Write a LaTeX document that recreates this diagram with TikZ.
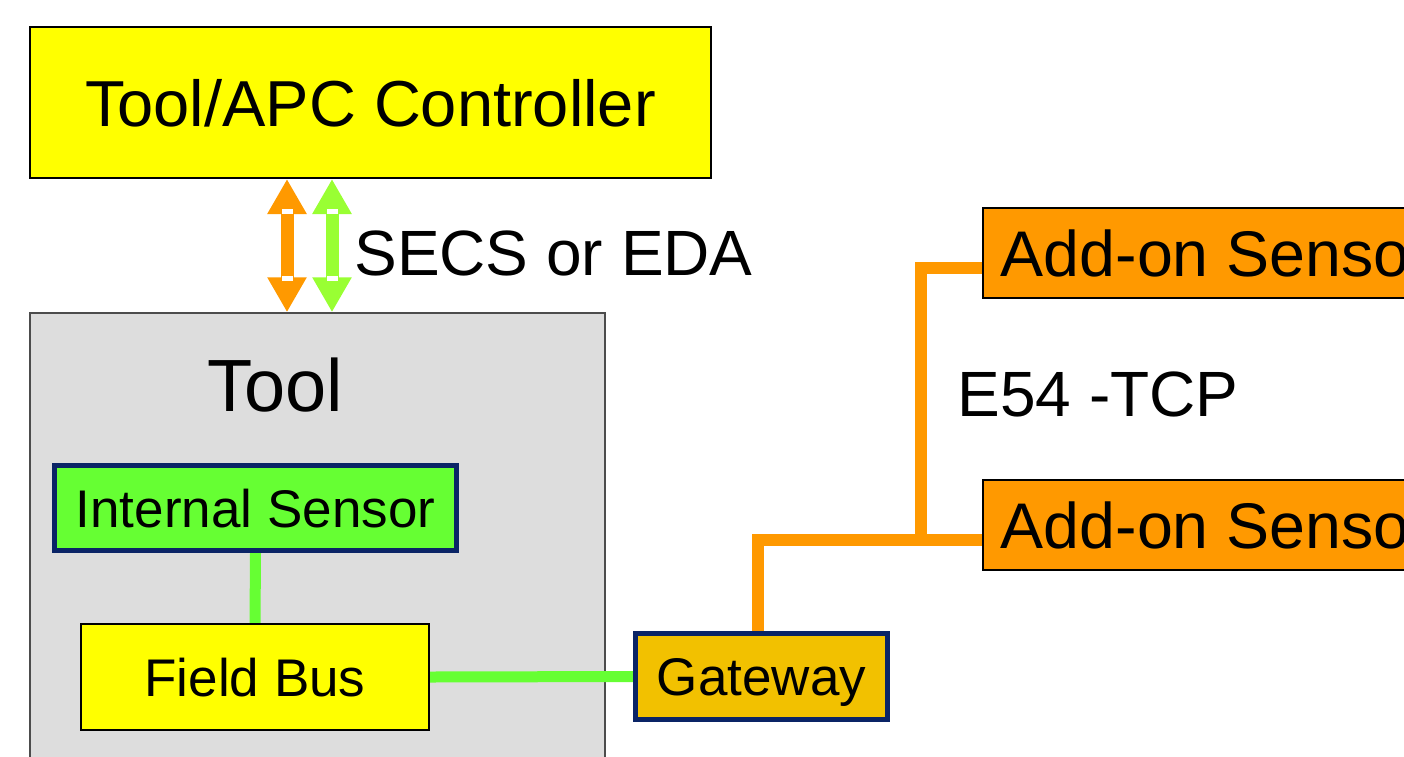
\documentclass[tikz,border=0pt]{standalone}
\usepackage{fontspec}
\setmainfont{Liberation Sans}
\usetikzlibrary{arrows.meta,calc}

\definecolor{cyellow}{HTML}{FFFF00}
\definecolor{cgray}{HTML}{DDDDDD}
\definecolor{cgreen}{HTML}{66FF33}
\definecolor{carrowgreen}{HTML}{99FF33}
\definecolor{corange}{HTML}{FF9900}
\definecolor{camber}{HTML}{F2C100}
\definecolor{cnavy}{HTML}{0A2466}

\pgfdeclarelayer{bg}
\pgfdeclarelayer{wires}
\pgfsetlayers{bg,wires,main}

\begin{document}
\begin{tikzpicture}[x=1pt,y=-1pt,
  box/.style={draw=black,line width=2pt,inner sep=0pt,text depth=0pt},
  navybox/.style={box,draw=cnavy,line width=5pt},
  bigfont/.style={font=\fontsize{64.5}{70}\selectfont},
  midfont/.style={font=\fontsize{53}{60}\selectfont},
  label/.style={inner sep=0pt,text depth=0pt,font=\fontsize{64}{70}\selectfont},
  gline/.style={draw=cgreen,line width=11pt},
  oline/.style={draw=corange,line width=12pt},
  dblarrow/.style={line width=13pt,
    {Triangle[width=37pt,length=35pt]}-{Triangle[width=37pt,length=35pt]}},
  gapmark/.style={fill=white}]

\useasboundingbox (0,0) rectangle (1404,756);
\clip (0,0) rectangle (1404,756);

% the tool enclosure sits underneath everything
\begin{pgfonlayer}{bg}
  \node[box,draw=gray!60!black,line width=1.5pt,fill=cgray,
        minimum width=575,minimum height=487] (tool) at (317.5,556.5) {};
\end{pgfonlayer}

% boxes
\node[box,fill=cyellow,minimum width=681,minimum height=151,
      font=\fontsize{65}{70}\selectfont]
  (ctrl) at (370.5,102.5) {Tool/APC Controller};
\node[label,font=\fontsize{74}{80}\selectfont] (tooltitle) at (275,385) {Tool};
\node[navybox,fill=cgreen,minimum width=402,minimum height=85,midfont]
  (is) at (255.5,508) {Internal Sensor};
\node[box,line width=1.5pt,fill=cyellow,minimum width=348,minimum height=106,midfont]
  (fb) at (255,677) {Field Bus};
\node[navybox,fill=camber,minimum width=252,minimum height=86,midfont]
  (gw) at (761.5,676.5) {Gateway};
\node[box,fill=corange,minimum width=466,minimum height=90,bigfont]
  (s1) at (1216,253) {Add-on Sensor};
\node[box,fill=corange,minimum width=466,minimum height=90,bigfont]
  (s2) at (1216,525) {Add-on Sensor};

% labels
\node[label] (secs) at (553.5,253) {SECS or EDA};
\node[label] (e54) at (1098,394) {E54 -TCP};

% wiring
\begin{pgfonlayer}{wires}
  \draw[gline] (is.south) -- (fb.north);
  \draw[gline] (fb.east) -- (gw.west);
  \coordinate (j) at ($(s2.west)+(-61,15)$);
  \draw[oline] ($(gw.north)+(-4,0)$) |- ($(s2.west)+(0,15)$);
  \draw[oline] (j) |- ($(s1.west)+(0,15)$);
\end{pgfonlayer}

% double-headed links between controller and tool
\coordinate (ao) at (287,0);
\coordinate (ag) at (332,0);
\draw[dblarrow,draw=corange,fill=corange] (ctrl.south -| ao) -- (tool.north -| ao);
\draw[dblarrow,draw=carrowgreen,fill=carrowgreen] (ctrl.south -| ag) -- (tool.north -| ag);
\foreach \c in {ao,ag}{
  \fill[gapmark] ($(ctrl.south -| \c)+(-5.5,30)$) rectangle +(11,5);
  \fill[gapmark] ($(tool.north -| \c)+(-5.5,-36)$) rectangle +(11,5);
}
\end{tikzpicture}
\end{document}
